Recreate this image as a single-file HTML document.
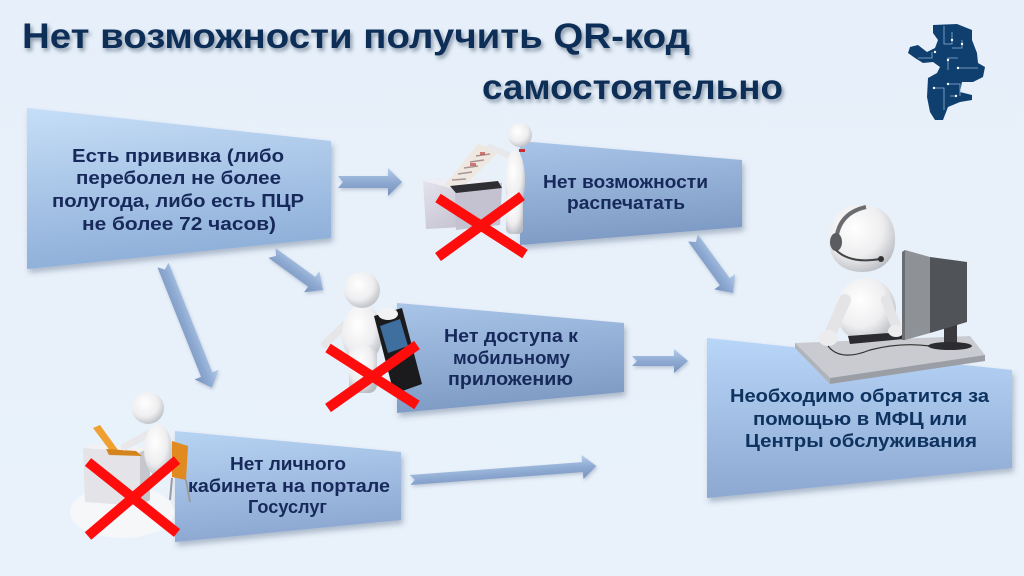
<!DOCTYPE html>
<html><head><meta charset="utf-8"><style>
html,body{margin:0;padding:0;width:1024px;height:576px;overflow:hidden;background:#e9f2fb;}
svg{display:block;}
text{font-family:"Liberation Sans","DejaVu Sans",sans-serif;font-weight:bold;}
</style></head><body>
<svg width="1024" height="576" viewBox="0 0 1024 576" xmlns="http://www.w3.org/2000/svg">
<defs>
  <linearGradient id="bg" x1="0" y1="0" x2="0" y2="1"><stop offset="0" stop-color="#e7f0fa"/><stop offset="1" stop-color="#e9f2fb"/></linearGradient>
  <linearGradient id="g1" x1="0" y1="0" x2="0.2" y2="1"><stop offset="0" stop-color="#c6def7"/><stop offset="1" stop-color="#8eafd9"/></linearGradient>
  <linearGradient id="g2" x1="0" y1="0" x2="0.2" y2="1"><stop offset="0" stop-color="#a9c5e8"/><stop offset="1" stop-color="#7e9bc5"/></linearGradient>
  <linearGradient id="g4" x1="0" y1="0" x2="0.2" y2="1"><stop offset="0" stop-color="#b8d4f3"/><stop offset="1" stop-color="#8ca8d2"/></linearGradient>
  <linearGradient id="g5" x1="0" y1="0" x2="0" y2="1"><stop offset="0" stop-color="#b8d6f8"/><stop offset="1" stop-color="#8da8d1"/></linearGradient>
  <linearGradient id="ga" x1="0" y1="0" x2="0" y2="1"><stop offset="0" stop-color="#b4cce8"/><stop offset="0.5" stop-color="#8eaad2"/><stop offset="1" stop-color="#7893bd"/></linearGradient>
  <radialGradient id="wh" cx="0.4" cy="0.35" r="0.7"><stop offset="0" stop-color="#ffffff"/><stop offset="0.6" stop-color="#eeeef0"/><stop offset="1" stop-color="#b9bcc2"/></radialGradient>
  <linearGradient id="pr" x1="0" y1="0" x2="1" y2="1"><stop offset="0" stop-color="#e6e4ee"/><stop offset="1" stop-color="#b9b6c6"/></linearGradient>
  <filter id="sh" x="-10%" y="-10%" width="130%" height="140%"><feDropShadow dx="2" dy="4" stdDeviation="3" flood-color="#3c4e70" flood-opacity="0.35"/></filter>
  <filter id="tsh" x="-5%" y="-20%" width="110%" height="160%"><feDropShadow dx="2" dy="3" stdDeviation="2" flood-color="#4a5a72" flood-opacity="0.6"/></filter>
  <filter id="ash" x="-10%" y="-30%" width="120%" height="180%"><feDropShadow dx="1" dy="2" stdDeviation="1.5" flood-color="#556680" flood-opacity="0.3"/></filter>
</defs>
<rect width="1024" height="576" fill="url(#bg)"/>

<!-- Title -->
<g filter="url(#tsh)" fill="#0e2d57">
  <text x="22" y="48" font-size="35" textLength="668" lengthAdjust="spacingAndGlyphs">Нет возможности получить QR-код</text>
  <text x="482" y="99" font-size="35" textLength="301" lengthAdjust="spacingAndGlyphs">самостоятельно</text>
</g>

<!-- Logo -->
<g>
  <polygon fill="#0f3f6e" points="933,25 957,24 972,30 972,40 977,53 978,63 985,67 983,77 973,82 962,82 960,92 972,95 972,100 960,102 948,107 943,120 935,120 930,112 927,97 928,78 937,73 940,67 933,62 923,63 915,58 908,53 910,47 918,45 927,52 935,48 938,40 933,33"/>
  <g stroke="#8fb2d6" stroke-width="0.8" fill="none">
    <path d="M944 26 V44 H952 V32"/><path d="M952 48 H962 V40"/><path d="M918 58 H932 V52"/><path d="M948 70 V58 H958"/><path d="M958 68 H978"/><path d="M934 88 H944 V110"/><path d="M948 84 H960 V96"/><path d="M950 96 H956"/>
  </g>
  <g fill="#ffffff"><circle cx="952" cy="40" r="1.2"/><circle cx="962" cy="44" r="1.2"/><circle cx="935" cy="52" r="1.2"/><circle cx="948" cy="60" r="1.2"/><circle cx="958" cy="68" r="1.2"/><circle cx="934" cy="88" r="1.2"/><circle cx="948" cy="84" r="1.2"/><circle cx="956" cy="96" r="1.2"/></g>
</g>

<!-- Boxes -->
<g filter="url(#sh)">
  <polygon points="27,108 331,141 331,238 27,269" fill="url(#g1)"/>
  <polygon points="520,141 742,160 742,227 520,245" fill="url(#g2)"/>
  <polygon points="397,303 624,323 624,392 397,413" fill="url(#g2)"/>
  <polygon points="175,431 401,452 401,520 175,542" fill="url(#g4)"/>
  <polygon points="707,338 1012,370 1012,468 707,498" fill="url(#g5)"/>
</g>

<!-- Box texts -->
<g fill="#17295a" font-size="18">
  <text x="72" y="162" textLength="212" lengthAdjust="spacingAndGlyphs">Есть прививка (либо</text>
  <text x="76" y="184" textLength="205" lengthAdjust="spacingAndGlyphs">переболел не более</text>
  <text x="52" y="207" textLength="252" lengthAdjust="spacingAndGlyphs">полугода, либо есть ПЦР</text>
  <text x="82" y="230" textLength="194" lengthAdjust="spacingAndGlyphs">не более 72 часов)</text>

  <text x="543" y="188" textLength="165" lengthAdjust="spacingAndGlyphs">Нет возможности</text>
  <text x="567" y="209" textLength="118" lengthAdjust="spacingAndGlyphs">распечатать</text>

  <text x="444" y="342" textLength="134" lengthAdjust="spacingAndGlyphs">Нет доступа к</text>
  <text x="453" y="364" textLength="117" lengthAdjust="spacingAndGlyphs">мобильному</text>
  <text x="448" y="385" textLength="125" lengthAdjust="spacingAndGlyphs">приложению</text>

  <text x="230" y="470" textLength="116" lengthAdjust="spacingAndGlyphs">Нет личного</text>
  <text x="188" y="492" textLength="202" lengthAdjust="spacingAndGlyphs">кабинета на портале</text>
  <text x="248" y="513" textLength="79" lengthAdjust="spacingAndGlyphs">Госуслуг</text>
</g>
<g fill="#0e3360" font-size="18">
  <text x="730" y="402" textLength="259" lengthAdjust="spacingAndGlyphs">Необходимо обратится за</text>
  <text x="753" y="425" textLength="214" lengthAdjust="spacingAndGlyphs">помощью в МФЦ или</text>
  <text x="745" y="447" textLength="232" lengthAdjust="spacingAndGlyphs">Центры обслуживания</text>
</g>

<!-- Arrows -->
<g filter="url(#ash)">
  <g transform="translate(338,182)"><polygon points="0,-6 50,-6 50,-14 64,0 50,14 50,6 0,6 5,0" fill="url(#ga)"/></g>
  <g transform="translate(272,253) rotate(35.96)"><polygon points="0,-6 49,-6 49,-13 63,0 49,13 49,6 0,6 5,0" fill="url(#ga)"/></g>
  <g transform="translate(163,265) rotate(68.28)"><polygon points="0,-6 118,-6 118,-13 132,0 118,13 118,6 0,6 5,0" fill="url(#ga)"/></g>
  <g transform="translate(693,238) rotate(53.97)"><polygon points="0,-6 54,-6 54,-13 68,0 54,13 54,6 0,6 5,0" fill="url(#ga)"/></g>
  <g transform="translate(632,361)"><polygon points="0,-5 42,-5 42,-12 56,0 42,12 42,5 0,5 5,0" fill="url(#ga)"/></g>
  <g transform="translate(410,480) rotate(-4.28)"><polygon points="0,-5 173,-5 173,-12 187,0 173,12 173,5 0,5 5,0" fill="url(#ga)"/></g>
</g>

<!-- Printer figure -->
<g>
  <polygon points="423,181 470,177 502,183 500,225 426,229" fill="url(#pr)"/>
  <polygon points="423,181 470,177 502,183 455,189" fill="#efeef4"/>
  <polygon points="455,189 502,183 500,225 456,230" fill="#c4c1d0"/>
  <polygon points="450,186 498,181 502,188 456,193" fill="#2e2e33"/>
  <polygon points="444,186 466,184 500,151 478,144" fill="#eee8e0"/>
  <g stroke="#9a8080" stroke-width="1.5" opacity="0.8">
    <line x1="452" y1="180" x2="466" y2="179"/><line x1="458" y1="174" x2="472" y2="172"/><line x1="464" y1="168" x2="478" y2="166"/><line x1="470" y1="162" x2="484" y2="160"/><line x1="476" y1="156" x2="490" y2="154"/>
  </g>
  <g fill="#c04848" opacity="0.7"><rect x="470" y="163" width="6" height="3"/><rect x="480" y="152" width="5" height="3"/></g>
  <line x1="510" y1="156" x2="490" y2="147" stroke="#e8e8ea" stroke-width="6" stroke-linecap="round"/>
  <ellipse cx="515" cy="180" rx="10" ry="30" fill="url(#wh)"/>
  <rect x="506" y="192" width="17" height="42" rx="5" fill="url(#wh)"/>
  <circle cx="520" cy="135" r="12" fill="url(#wh)"/>
  <rect x="519" y="149" width="6" height="3" fill="#c83030"/>
</g>

<!-- Phone figure -->
<g>
  <line x1="350" y1="320" x2="325" y2="344" stroke="#e6e6e8" stroke-width="8" stroke-linecap="round"/>
  <ellipse cx="362" cy="334" rx="20" ry="30" fill="url(#wh)"/>
  <rect x="349" y="345" width="28" height="48" rx="8" fill="url(#wh)"/>
  <circle cx="362" cy="290" r="18" fill="url(#wh)"/>
  <polygon points="374,316 402,308 422,384 394,394" fill="#1b1b1e"/>
  <polygon points="380,326 400,319 408,346 388,353" fill="#3e6f9e"/>
  <ellipse cx="388" cy="314" rx="10" ry="6" fill="#f2f2f4"/>
</g>

<!-- Laptop figure -->
<g>
  <ellipse cx="122" cy="512" rx="52" ry="26" fill="#f6f7f9"/>
  <polygon points="83,448 140,452 140,506 85,502" fill="#e4e4e8"/>
  <polygon points="140,452 150,448 150,500 140,506" fill="#c6c7cc"/>
  <polygon points="83,448 93,444 150,448 140,452" fill="#f2f2f4"/>
  <polygon points="93,428 100,425 118,450 111,452" fill="#f0a030"/>
  <polygon points="106,449 136,451 142,456 109,455" fill="#d4841c"/>
  <polygon points="172,441 188,446 186,480 172,477" fill="#e08a20"/>
  <path d="M172 478 L170 500 M186 480 L190 502" stroke="#9a9ca0" stroke-width="2"/>
  <line x1="150" y1="433" x2="124" y2="447" stroke="#e8e8ea" stroke-width="7" stroke-linecap="round"/>
  <ellipse cx="158" cy="450" rx="14" ry="26" fill="url(#wh)"/>
  <circle cx="148" cy="408" r="16" fill="url(#wh)"/>
</g>

<!-- Operator -->
<g>
  <polygon points="795,343 970,336 985,355 830,378" fill="#c9cbd1"/>
  <polygon points="830,378 985,355 985,361 830,384" fill="#9b9ea5"/>
  <polygon points="795,343 830,378 830,384 795,348" fill="#b0b3b9"/>
  <ellipse cx="866" cy="310" rx="30" ry="32" fill="url(#wh)"/>
  <line x1="845" y1="300" x2="830" y2="334" stroke="#e4e4e6" stroke-width="12" stroke-linecap="round"/>
  <line x1="886" y1="300" x2="896" y2="326" stroke="#e4e4e6" stroke-width="10" stroke-linecap="round"/>
  <polygon points="848,336 902,332 904,339 850,344" fill="#2c2c30"/>
  <ellipse cx="828" cy="338" rx="10" ry="8" fill="#ececee"/>
  <ellipse cx="896" cy="331" rx="8" ry="6" fill="#ececee"/>
  <path d="M828 346 Q840 362 870 350 Q900 342 930 346" stroke="#333" stroke-width="1.2" fill="none"/>
  <path d="M862 205 C886 205 896 222 895 242 C894 262 880 272 862 272 C844 272 830 262 829 242 C828 222 838 205 862 205 Z" fill="url(#wh)"/>
  <path d="M836 250 Q834 214 866 207" stroke="#6a6c70" stroke-width="4" fill="none"/>
  <ellipse cx="836" cy="242" rx="6" ry="9" fill="#5a5c60"/>
  <path d="M836 250 Q850 264 880 259" stroke="#444" stroke-width="2" fill="none"/>
  <circle cx="881" cy="259" r="3" fill="#333"/>
  <rect x="944" y="318" width="13" height="27" fill="#3a3a3e"/>
  <ellipse cx="950" cy="346" rx="22" ry="4" fill="#2c2c30"/>
  <polygon points="905,250 930,257 930,333 905,340" fill="#8e9297"/>
  <polygon points="930,257 967,262 967,322 930,333" fill="#505358"/>
  <polygon points="902,252 905,250 905,340 902,340" fill="#6a6d72"/>
</g>

<!-- Red X marks -->
<g stroke="#ff0d0d" stroke-width="10" stroke-linecap="butt">
  <line x1="438" y1="198" x2="525" y2="254"/><line x1="522" y1="196" x2="438" y2="257"/>
  <line x1="328" y1="348" x2="417" y2="405"/><line x1="417" y1="345" x2="328" y2="408"/>
  <line x1="88" y1="462" x2="177" y2="533"/><line x1="177" y1="460" x2="88" y2="536"/>
</g>
</svg>
</body></html>
